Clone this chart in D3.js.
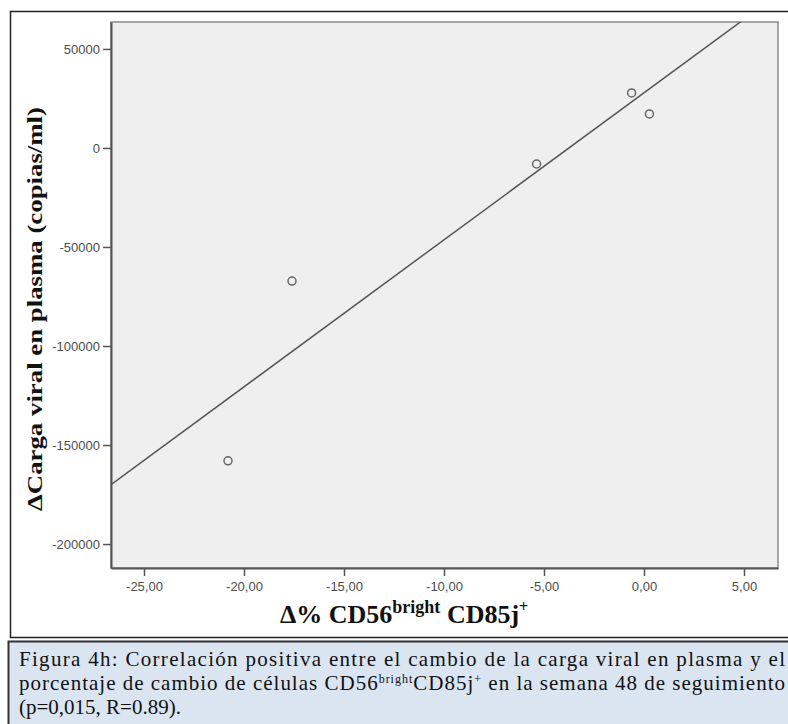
<!DOCTYPE html>
<html>
<head>
<meta charset="utf-8">
<script src="https://cdn.jsdelivr.net/npm/d3@7"></script>
<style>
  body { margin: 0; background: #fff; }
  .tick text { font-family: "Liberation Sans", Arial, sans-serif; font-size: 13px; fill: #4d4d4d; }
</style>
</head>
<body>
<div id="chart"></div>
<script>
  // values
  var changeCD56 = [-20.8, -17.6, -5.37, -0.62, 0.27];
  var changeLoad = [-158000, -67200, -8100, 27800, 17200];
  var xTicks = [-25, -20, -15, -10, -5, 0, 5];
  var yTicks = [50000, 0, -50000, -100000, -150000, -200000];
  var xDomain = [-26.65, 6.7];
  var yDomain = [-212100, 63600];

  var width = 788, height = 724;
  var plot = {left: 111, top: 22, right: 778, bottom: 568};

  var svg = d3.select("#chart")
              .append("svg")
              .attr("width", width)
              .attr("height", height);

  // figure frame
  svg.append("rect")
     .attr("x", 10.5).attr("y", 11.5)
     .attr("width", 800).attr("height", 626)
     .attr("fill", "#fff")
     .attr("stroke", "#222")
     .attr("stroke-width", 1.5);

  var x = d3.scaleLinear().domain(xDomain).range([plot.left, plot.right]);
  var y = d3.scaleLinear().domain(yDomain).range([plot.bottom, plot.top]);

  svg.append("rect")
     .attr("x", plot.left).attr("y", plot.top)
     .attr("width", plot.right - plot.left)
     .attr("height", plot.bottom - plot.top)
     .attr("fill", "#efefef")
     .attr("stroke", "#8a8a8a")
     .attr("stroke-width", 1.5);

  svg.append("clipPath")
     .attr("id", "clip")
     .append("rect")
     .attr("x", plot.left).attr("y", plot.top)
     .attr("width", plot.right - plot.left)
     .attr("height", plot.bottom - plot.top);

  // least squares fit through the points
  var mx = d3.mean(changeCD56), my = d3.mean(changeLoad);
  var sxy = d3.sum(changeCD56, function(d, i) { return (d - mx) * (changeLoad[i] - my); });
  var sxx = d3.sum(changeCD56, function(d) { return (d - mx) * (d - mx); });
  var slope = sxy / sxx, intercept = my - slope * mx;

  svg.append("line")
     .attr("clip-path", "url(#clip)")
     .attr("x1", x(xDomain[0])).attr("y1", y(slope * xDomain[0] + intercept))
     .attr("x2", x(xDomain[1])).attr("y2", y(slope * xDomain[1] + intercept))
     .attr("stroke", "#555")
     .attr("stroke-width", 1.5);

  svg.selectAll(".dot")
     .data(changeCD56)
     .enter()
     .append("circle")
     .attr("class", "dot")
     .attr("cx", function(d) { return x(d); })
     .attr("cy", function(d, i) { return y(changeLoad[i]); })
     .attr("r", 4)
     .attr("fill", "none")
     .attr("stroke", "#666")
     .attr("stroke-width", 1.5);

  var yAxis = svg.append("g")
     .attr("transform", "translate(" + plot.left + ",0)")
     .call(d3.axisLeft(y).tickValues(yTicks).tickSize(8).tickPadding(3).tickSizeOuter(0)
             .tickFormat(function(d) { return String(d); }));

  var xAxis = svg.append("g")
     .attr("transform", "translate(0," + plot.bottom + ")")
     .call(d3.axisBottom(x).tickValues(xTicks).tickSize(8).tickPadding(6).tickSizeOuter(0)
             .tickFormat(function(d) { return d.toFixed(2).replace(".", ","); }));

  [yAxis, xAxis].forEach(function(a) {
    a.select(".domain").attr("stroke", "#555").attr("stroke-width", 2);
    a.selectAll(".tick line").attr("stroke", "#555").attr("stroke-width", 1.5);
  });

  // axis titles
  svg.append("text")
     .attr("transform", "translate(42,309) rotate(-90)")
     .attr("text-anchor", "middle")
     .attr("font-family", "Liberation Serif, Times New Roman, serif")
     .attr("font-weight", "bold")
     .attr("font-size", 22)
     .attr("fill", "#111")
     .attr("textLength", 404)
     .attr("lengthAdjust", "spacingAndGlyphs")
     .text("\u0394Carga viral en plasma (copias/ml)");

  var xt = svg.append("text")
     .attr("x", 280).attr("y", 623)
     .attr("font-family", "Liberation Serif, Times New Roman, serif")
     .attr("font-weight", "bold")
     .attr("font-size", 26)
     .attr("fill", "#111");
  xt.append("tspan").text("\u0394% CD56");
  xt.append("tspan").attr("font-size", 18).attr("dy", -10).text("bright");
  xt.append("tspan").attr("dy", 10).text(" CD85j");
  xt.append("tspan").attr("font-size", 16).attr("dy", -11).text("+");

  // caption box
  svg.append("rect")
     .attr("x", 8.5).attr("y", 641.5)
     .attr("width", 800).attr("height", 100)
     .attr("fill", "#dbe5f1")
     .attr("stroke", "#333")
     .attr("stroke-width", 2);

  var cap = svg.append("g")
     .attr("font-family", "Liberation Serif, Times New Roman, serif")
     .attr("font-size", 21)
     .attr("fill", "#111");

  cap.append("text")
     .attr("x", 19).attr("y", 666)
     .attr("textLength", 766)
     .attr("lengthAdjust", "spacing")
     .text("Figura 4h: Correlación positiva entre el cambio de la carga viral en plasma y el");

  var c2 = cap.append("text")
     .attr("x", 19).attr("y", 690)
     .attr("textLength", 766)
     .attr("lengthAdjust", "spacing");
  c2.append("tspan").text("porcentaje de cambio de células CD56");
  c2.append("tspan").attr("font-size", 12).attr("dy", -7).text("bright");
  c2.append("tspan").attr("dy", 7).text("CD85j");
  c2.append("tspan").attr("font-size", 12).attr("dy", -7).text("+");
  c2.append("tspan").attr("dy", 7).text(" en la semana 48 de seguimiento");

  cap.append("text")
     .attr("x", 19).attr("y", 714)
     .text("(p=0,015, R=0.89).");
</script>
</body>
</html>
